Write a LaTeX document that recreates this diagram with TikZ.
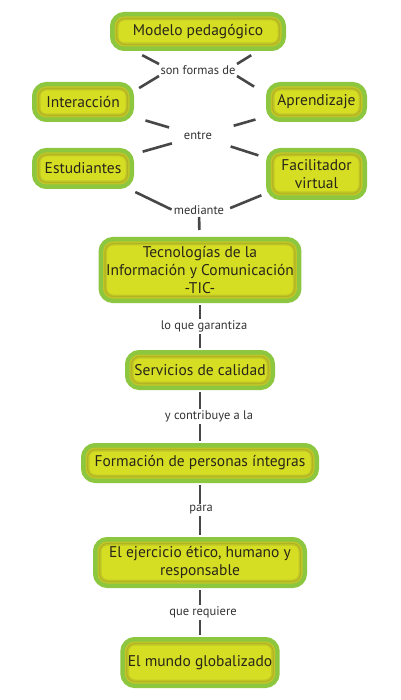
\documentclass[tikz,border=0pt]{standalone}
\usepackage{fontspec}
\setmainfont{PT Sans}
\usepackage{tikz}
\definecolor{CmapGreen}{RGB}{141, 198, 63}
\definecolor{CmapYellow}{RGB}{214, 222, 35}
\definecolor{CmapRim}{RGB}{178, 180, 38}
\definecolor{CmapText}{RGB}{40, 38, 25}

\begin{document}
\begin{tikzpicture}[x=1pt, y=-1pt,
    concept/.style={rectangle, rounded corners=8pt, fill=CmapYellow, draw=CmapRim!55!CmapYellow, line width=4pt,
      preaction={draw=CmapGreen, line width=13pt}, postaction={draw=CmapRim, line width=1.2pt},
      outer sep=6.5pt, inner sep=1pt,
      text=CmapText, align=center, font=\fontsize{15.5}{18}\selectfont},
    phrase/.style={fill=white, inner sep=1.5pt, outer sep=0pt, text=black!80,
      font=\fontsize{12.5}{14}\selectfont},
    link/.style={line width=2.6pt, draw=black!72, shorten <=2pt, shorten >=2pt},
  ]
    \fill[white] (0,0) rectangle (400,700);
    \useasboundingbox (0,0) rectangle (400,700);

    \node[concept, minimum width=163pt, minimum height=26pt] (modelo) at (198,31.5) {Modelo pedagógico};
    \node[concept, minimum width=89pt, minimum height=27pt] (interaccion) at (83,102) {Interacción};
    \node[concept, minimum width=88pt, minimum height=27pt] (aprendizaje) at (316.5,102) {Aprendizaje};
    \node[concept, minimum width=89pt, minimum height=28pt] (estudiantes) at (83,168.5) {Estudiantes};
    \node[concept, minimum width=88pt, minimum height=39pt] (facilitador) at (316.5,174) {Facilitador\\virtual};
    \node[concept, minimum width=188pt, minimum height=53pt] (tic) at (200,270) {Tecnologías de la\\Información y Comunicación\\-TIC-};
    \node[concept, minimum width=137pt, minimum height=27pt] (servicios) at (200,370) {Servicios de calidad};
    \node[concept, minimum width=225pt, minimum height=27pt] (formacion) at (200,463) {Formación de personas íntegras};
    \node[concept, minimum width=201pt, minimum height=38pt] (ejercicio) at (200,562.5) {El ejercicio ético, humano y\\responsable};
    \node[concept, minimum width=142pt, minimum height=38pt] (mundo) at (200,662.5) {El mundo globalizado};

    \node[phrase] (sonformas) at (198,70) {son formas de};
    \node[phrase] (entre) at (198,136) {entre};
    \node[phrase] (mediante) at (199,210) {mediante};

    \draw[link, shorten <=9pt, shorten >=0pt] (modelo.-163) -- (sonformas.north west);
    \draw[link, shorten <=8pt, shorten >=0pt] (modelo.-18) -- (sonformas.north east);
    \draw[link, shorten <=6pt, shorten >=0pt] (interaccion.12) -- (sonformas.south west);
    \draw[link, shorten <=14pt, shorten >=0pt] (aprendizaje.171) -- (sonformas.south east);

    \draw[link, shorten <=12pt, shorten >=14pt] (interaccion) -- (entre);
    \draw[link, shorten <=9pt, shorten >=11pt] (estudiantes) -- (entre);
    \draw[link, shorten <=11pt, shorten >=21pt] (aprendizaje) -- (entre);
    \draw[link, shorten <=8pt, shorten >=18pt] (facilitador) -- (entre);

    \draw[link, shorten <=7pt, shorten >=1pt] (estudiantes.-24) -- (mediante.west);
    \draw[link, shorten <=5pt, shorten >=5pt] (facilitador.-159) -- (mediante.east);
    \draw[link, shorten <=1pt, shorten >=7pt] (mediante) -- (tic);

    \draw[link] (tic) -- node[phrase, xshift=4pt] (garantiza) {lo que garantiza} (servicios);
    \draw[link] (servicios) -- node[phrase, xshift=9pt] (contribuye) {y contribuye a la} (formacion);
    \draw[link] (formacion) -- node[phrase, xshift=1pt] (para) {para} (ejercicio);
    \draw[link] (ejercicio) -- node[phrase, xshift=3pt] (requiere) {que requiere} (mundo);
  \end{tikzpicture}
\end{document}
